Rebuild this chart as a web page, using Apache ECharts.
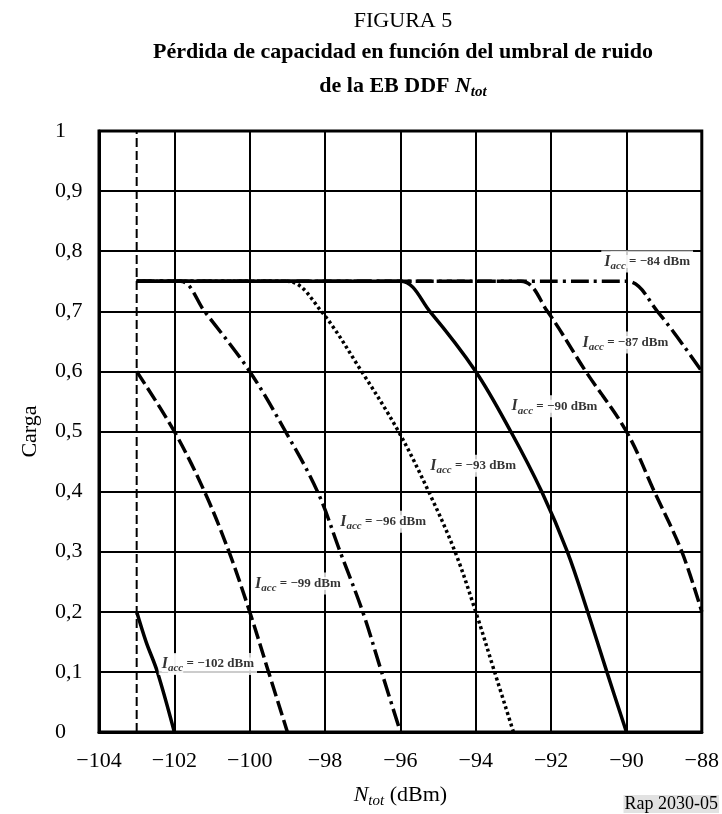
<!DOCTYPE html>
<html>
<head>
<meta charset="utf-8">
<script src="https://cdn.jsdelivr.net/npm/echarts@6/dist/echarts.min.js"></script>
<style>
html,body{margin:0;padding:0;background:#fff;}
#chart{width:722px;height:814px;}
</style>
</head>
<body>
<div id="chart"></div>
<script>
// ---- data ----
const iaccValues = [-102, -99, -96, -93, -90, -87, -84];   // dBm
const pts102 = [[-103, 0.2], [-102.75, 0.15], [-102.45, 0.1], [-102, 0]];
const pts99  = [[-103, 0.6], [-102, 0.5], [-101.2, 0.4], [-100.55, 0.3], [-100, 0.2], [-99.5, 0.1], [-99, 0]];
const pts96  = [[-103, 0.75], [-101.84, 0.75], [-101.2, 0.7], [-100, 0.6], [-99.05, 0.5], [-98.2, 0.4], [-97.6, 0.3], [-97, 0.2], [-96.5, 0.1], [-96, 0]];
const pts93  = [[-103, 0.75], [-99, 0.75], [-98.1, 0.7], [-97.03, 0.6], [-96.05, 0.5], [-95.25, 0.4], [-94.55, 0.3], [-94, 0.2], [-93.5, 0.1], [-93, 0]];
const pts90  = [[-103, 0.75], [-96, 0.75], [-95.22, 0.7], [-94, 0.6], [-93.07, 0.5], [-92.25, 0.4], [-91.57, 0.3], [-91.03, 0.2], [-90.52, 0.1], [-90, 0]];
const pts87  = [[-103, 0.75], [-92.8, 0.75], [-92.1, 0.7], [-91.08, 0.6], [-90, 0.5], [-89.26, 0.4], [-88.53, 0.3], [-88, 0.2]];
const pts84  = [[-103, 0.75], [-90, 0.75], [-89.18, 0.7], [-88, 0.6]];
const thresholdX = -103;            // vertical dashed line
const labelX = [-101.11, -98.72, -96.46, -94.07, -91.91, -90.03, -89.45];
const labelY = [0.113, 0.247, 0.350, 0.443, 0.542, 0.648, 0.783];
const xMin = -104, xMax = -88, xStep = 2;
const yMin = 0, yMax = 1, yStep = 0.1;

// ---- styles ----
const SERIF = '"Liberation Serif", "Times New Roman", serif';
const DASHED = [15, 5];
const DASHDOT = [18, 5, 3, 5];
const DOTTED = [3, 3];
const curveSets = [pts102, pts99, pts96, pts93, pts90, pts87, pts84];
const curveDash = ['solid', DASHED, DASHDOT, DOTTED, 'solid', DASHED, DASHDOT];

const minus = s => String(s).replace('-', '\u2212');

const series = curveSets.map((pts, i) => ({
  type: 'line',
  name: 'Iacc ' + iaccValues[i],
  data: pts,
  showSymbol: false,
  symbol: 'none',
  smooth: 0.35,
  z: 3,
  lineStyle: { color: '#000', width: 3.5, type: curveDash[i], cap: 'butt', join: 'round' },
  silent: true
}));

series.unshift({
  type: 'line',
  data: [[thresholdX, yMin], [thresholdX, yMax]],
  symbol: 'none',
  z: 2,
  lineStyle: { color: '#000', width: 2, type: [9, 4] },
  silent: true
});

series.push({
  type: 'scatter',
  symbolSize: 0,
  z: 10,
  zlevel: 1,
  silent: true,
  data: labelX.map((x, i) => [x, labelY[i]]),
  label: {
    show: true,
    position: 'inside',
    backgroundColor: '#fff',
    padding: [1, 3, 1, 3],
    formatter: p => '{i|I}{s|acc}{t| = ' + minus(iaccValues[p.dataIndex]) + ' dBm}',
    rich: {
      i: { fontFamily: SERIF, fontSize: 16, fontWeight: 'bold', fontStyle: 'italic', color: '#000', backgroundColor: '#fff' },
      s: { fontFamily: SERIF, fontSize: 11, fontWeight: 'bold', fontStyle: 'italic', color: '#000', padding: [9, 0, 0, 0], backgroundColor: '#fff' },
      t: { fontFamily: SERIF, fontSize: 13, fontWeight: 'bold', color: '#000', backgroundColor: '#fff' }
    }
  }
});

const chart = echarts.init(document.getElementById('chart'), null, { renderer: 'canvas' });
chart.setOption({
  backgroundColor: '#fff',
  animation: false,
  title: [
    { text: 'FIGURA 5', left: 403, top: 10, textAlign: 'center', padding: 0,
      textStyle: { fontFamily: SERIF, fontSize: 22, fontWeight: 'normal', color: '#000' } },
    { text: 'Pérdida de capacidad en función del umbral de ruido', left: 403, top: 41, textAlign: 'center', padding: 0,
      textStyle: { fontFamily: SERIF, fontSize: 22, fontWeight: 'bold', color: '#000' } },
    { text: '{b|de la EB DDF }{n|N}{s|tot}', left: 403, top: 73, textAlign: 'center', padding: 0,
      textStyle: {
        rich: {
          b: { fontFamily: SERIF, fontSize: 22, fontWeight: 'bold', color: '#000' },
          n: { fontFamily: SERIF, fontSize: 22, fontWeight: 'bold', fontStyle: 'italic', color: '#000' },
          s: { fontFamily: SERIF, fontSize: 15, fontWeight: 'bold', fontStyle: 'italic', color: '#000', padding: [12, 0, 0, 0] }
        }
      } }
  ],
  graphic: [
    { type: 'text', right: 3, bottom: 1,
      style: { text: 'Rap 2030-05', font: '18px "Liberation Serif"', fill: '#000', backgroundColor: '#e2e2e2', padding: [0, 1, 0, 1] } }
  ],
  grid: { left: 99, right: 17, top: 131, bottom: 80, show: true, borderColor: '#000', borderWidth: 3, backgroundColor: '#fff' },
  xAxis: {
    type: 'value', min: xMin, max: xMax, interval: xStep,
    name: '{n|N}{s|tot}{r| (dBm)}', nameLocation: 'middle', nameGap: 50,
    nameTextStyle: {
      rich: {
        n: { fontFamily: SERIF, fontSize: 22, fontStyle: 'italic', color: '#000' },
        s: { fontFamily: SERIF, fontSize: 15, fontStyle: 'italic', color: '#000', padding: [12, 0, 0, 0] },
        r: { fontFamily: SERIF, fontSize: 22, color: '#000' }
      }
    },
    axisLine: { show: true, lineStyle: { color: '#000', width: 3 } },
    axisTick: { show: false },
    splitLine: { show: true, lineStyle: { color: '#000', width: 2 } },
    axisLabel: { fontFamily: SERIF, fontSize: 22, color: '#000', margin: 18, formatter: v => minus(v) }
  },
  yAxis: {
    type: 'value', min: yMin, max: yMax, interval: yStep,
    name: 'Carga', nameLocation: 'middle', nameGap: 58, nameRotate: 90,
    nameTextStyle: { fontFamily: SERIF, fontSize: 22, color: '#000' },
    axisLine: { show: true, lineStyle: { color: '#000', width: 3 } },
    axisTick: { show: false },
    splitLine: { show: true, lineStyle: { color: '#000', width: 2 } },
    axisLabel: {
      fontFamily: SERIF, fontSize: 22, color: '#000', margin: 44, align: 'left',
      formatter: v => (Math.abs(v) < 1e-9 ? '0' : Math.abs(v - 1) < 1e-9 ? '1' : v.toFixed(1).replace('.', ','))
    }
  },
  series: series
});
</script>
</body>
</html>
